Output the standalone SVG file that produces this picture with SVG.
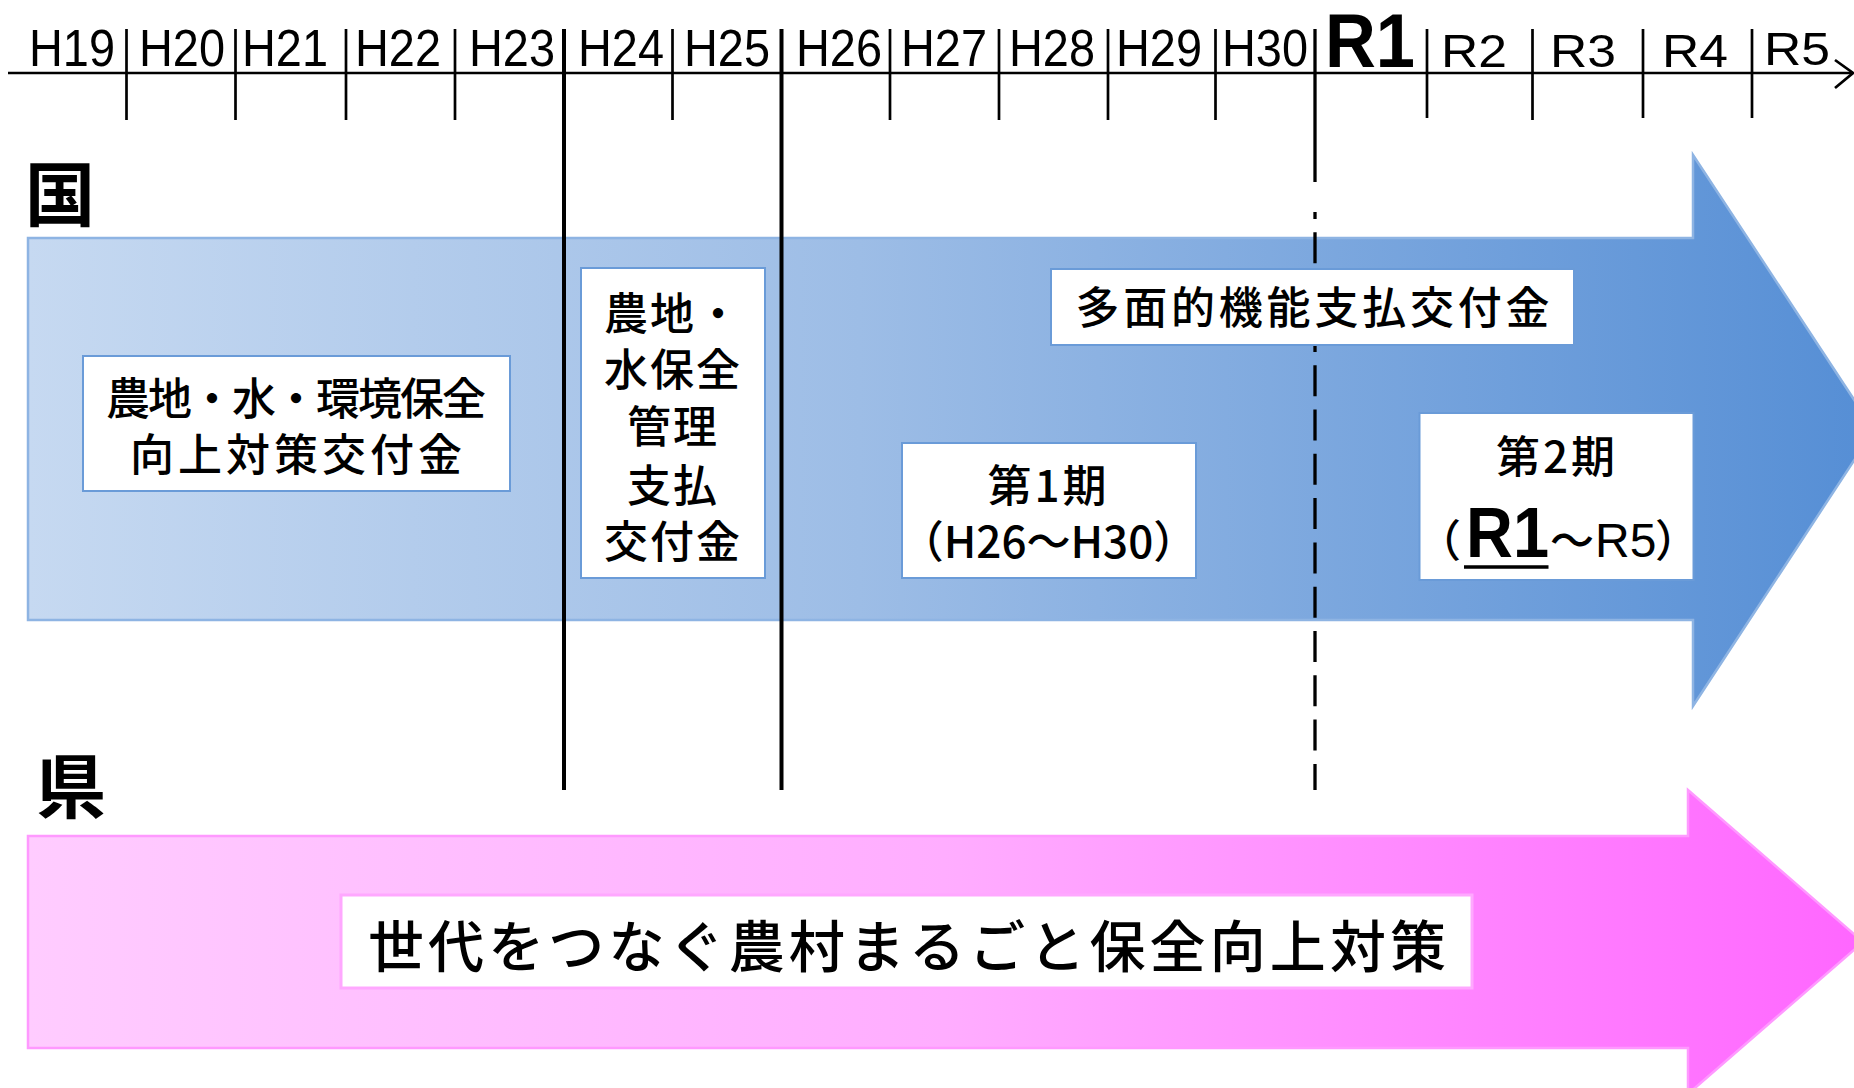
<svg xmlns="http://www.w3.org/2000/svg" width="1854" height="1088" viewBox="0 0 1854 1088">
<defs>
<linearGradient id="gBlue" x1="0" y1="0" x2="1" y2="0">
<stop offset="0" stop-color="#C6D9F1"/>
<stop offset="0.45" stop-color="#9DBDE6"/>
<stop offset="1" stop-color="#558ED5"/>
</linearGradient>
<linearGradient id="gPink" x1="0" y1="0" x2="1" y2="0">
<stop offset="0" stop-color="#FFCCFF"/>
<stop offset="0.5" stop-color="#FFADFF"/>
<stop offset="1" stop-color="#FF66FF"/>
</linearGradient>
</defs>
<style>
.ax{font-family:"Liberation Sans",Arial,sans-serif;fill:#000;text-anchor:middle}
.h{font-size:51px}
.r{font-size:47px}
.jp{font-family:"Noto Sans CJK JP","Noto Sans CJK SC",sans-serif;fill:#000}
.bx{font-size:44px;font-weight:500;text-anchor:middle}
.big{font-size:70px;font-weight:700}
.tick{stroke:#000;stroke-width:2.7;fill:none}
.thick{stroke:#000;stroke-width:4;fill:none}
.wbox{fill:#fff;stroke:#6A9BD8;stroke-width:2}
.pbox{fill:#fff;stroke:#FFA8FF;stroke-width:3}
</style>
<rect width="1854" height="1088" fill="#fff"/>

<g id="axis">
<line class="tick" x1="8" y1="73" x2="1853" y2="73"/>
<polyline class="tick" points="1835,60 1853,73 1835,88"/>
<g>
<line class="tick" x1="126.5" y1="29" x2="126.5" y2="120"/>
<line class="tick" x1="235.5" y1="29" x2="235.5" y2="120"/>
<line class="tick" x1="346" y1="29" x2="346" y2="120"/>
<line class="tick" x1="455" y1="29" x2="455" y2="120"/>
<line class="tick" x1="672.5" y1="29" x2="672.5" y2="120"/>
<line class="tick" x1="890" y1="29" x2="890" y2="120"/>
<line class="tick" x1="999" y1="29" x2="999" y2="120"/>
<line class="tick" x1="1108" y1="29" x2="1108" y2="120"/>
<line class="tick" x1="1215.5" y1="29" x2="1215.5" y2="120"/>
<line class="tick" x1="1427" y1="29" x2="1427" y2="118"/>
<line class="tick" x1="1532.5" y1="29" x2="1532.5" y2="120"/>
<line class="tick" x1="1643" y1="29" x2="1643" y2="118"/>
<line class="tick" x1="1752" y1="29" x2="1752" y2="118"/>
</g>
<g>
<text class="ax h" x="72" y="66" textLength="86" lengthAdjust="spacingAndGlyphs">H19</text>
<text class="ax h" x="182" y="66" textLength="86" lengthAdjust="spacingAndGlyphs">H20</text>
<text class="ax h" x="285" y="66" textLength="86" lengthAdjust="spacingAndGlyphs">H21</text>
<text class="ax h" x="398" y="66" textLength="86" lengthAdjust="spacingAndGlyphs">H22</text>
<text class="ax h" x="512" y="66" textLength="86" lengthAdjust="spacingAndGlyphs">H23</text>
<text class="ax h" x="621" y="66" textLength="86" lengthAdjust="spacingAndGlyphs">H24</text>
<text class="ax h" x="727" y="66" textLength="86" lengthAdjust="spacingAndGlyphs">H25</text>
<text class="ax h" x="839" y="66" textLength="86" lengthAdjust="spacingAndGlyphs">H26</text>
<text class="ax h" x="944" y="66" textLength="86" lengthAdjust="spacingAndGlyphs">H27</text>
<text class="ax h" x="1052" y="66" textLength="86" lengthAdjust="spacingAndGlyphs">H28</text>
<text class="ax h" x="1159" y="66" textLength="86" lengthAdjust="spacingAndGlyphs">H29</text>
<text class="ax h" x="1265" y="66" textLength="86" lengthAdjust="spacingAndGlyphs">H30</text>
<text class="ax" x="1370" y="67" font-size="76" font-weight="700" textLength="90" lengthAdjust="spacingAndGlyphs">R1</text>
<text class="ax r" x="1474" y="67" textLength="66" lengthAdjust="spacingAndGlyphs">R2</text>
<text class="ax r" x="1583" y="67" textLength="66" lengthAdjust="spacingAndGlyphs">R3</text>
<text class="ax r" x="1695" y="67" textLength="66" lengthAdjust="spacingAndGlyphs">R4</text>
<text class="ax r" x="1797" y="65" textLength="66" lengthAdjust="spacingAndGlyphs">R5</text>
</g>
</g>

<g id="label-kuni"><text class="jp big" x="25" y="221">国</text></g>
<g id="label-ken"><text class="jp big" x="36" y="813">県</text></g>

<g id="arrow-kuni">
<path d="M28,238 H1693 V155 L1874,430 L1693,706 V620 H28 Z" fill="url(#gBlue)" stroke="#8EB4E3" stroke-width="2.5"/>
</g>
<g id="arrow-ken">
<path d="M28,836 H1688 V790 L1863,942 L1688,1094 V1048 H28 Z" fill="url(#gPink)" stroke="#FF99FF" stroke-width="2.5"/>
</g>

<g id="connectors">
<line class="thick" x1="564" y1="29" x2="564" y2="790"/>
<line class="thick" x1="781.5" y1="29" x2="781.5" y2="790"/>
<line stroke="#000" stroke-width="3.3" x1="1315" y1="29" x2="1315" y2="182"/>
<line stroke="#000" stroke-width="3.3" x1="1315" y1="212" x2="1315" y2="790" stroke-dasharray="31 13.3" stroke-dashoffset="24"/>
</g>

<g id="box-kankyo">
<rect class="wbox" x="83" y="356" width="427" height="135"/>
<text class="jp bx" x="296" y="415" textLength="380" lengthAdjust="spacing">農地・水・環境保全</text>
<text class="jp bx" x="296" y="471" textLength="332" lengthAdjust="spacing">向上対策交付金</text>
</g>

<g id="box-kanri">
<rect class="wbox" x="581" y="268" width="184" height="310"/>
<text class="jp bx" x="673" y="330" letter-spacing="2">農地・</text>
<text class="jp bx" x="673" y="386" letter-spacing="2">水保全</text>
<text class="jp bx" x="673" y="443" letter-spacing="2">管理</text>
<text class="jp bx" x="673" y="502" letter-spacing="2">支払</text>
<text class="jp bx" x="673" y="558" letter-spacing="2">交付金</text>
</g>

<g id="box-tamenteki">
<rect class="wbox" x="1051" y="269" width="523" height="76"/>
<text class="jp bx" x="1312.5" y="324" textLength="474" lengthAdjust="spacing">多面的機能支払交付金</text>
</g>

<g id="box-ki1">
<rect class="wbox" x="902" y="443" width="294" height="135"/>
<text class="jp bx" x="1048.5" y="502" letter-spacing="3">第1期</text>
<text class="jp bx" x="1048.5" y="558">（H26～H30）</text>
</g>

<g id="box-ki2">
<rect class="wbox" x="1419.5" y="413" width="274" height="167"/>
<text class="jp bx" x="1557" y="473" letter-spacing="3">第2期</text>
<text class="jp" font-size="44" font-weight="500" x="1461" y="557" text-anchor="end">（</text>
<text font-family="Liberation Sans,Arial,sans-serif" font-size="70" font-weight="700" x="1466" y="557" textLength="83" lengthAdjust="spacingAndGlyphs">R1</text>
<line x1="1464" y1="567" x2="1548.5" y2="567" stroke="#000" stroke-width="3.5"/>
<text class="jp" font-size="44" font-weight="500" x="1550" y="557">～</text>
<text font-family="Liberation Sans,Arial,sans-serif" font-size="48" x="1595" y="557">R5</text>
<text class="jp" font-size="44" font-weight="500" x="1655" y="557">）</text>
</g>

<g id="box-ken">
<rect class="pbox" x="341" y="895" width="1131" height="93"/>
<text class="jp" font-size="56" font-weight="500" text-anchor="middle" x="907" y="967" textLength="1078" lengthAdjust="spacing">世代をつなぐ農村まるごと保全向上対策</text>
</g>
</svg>
